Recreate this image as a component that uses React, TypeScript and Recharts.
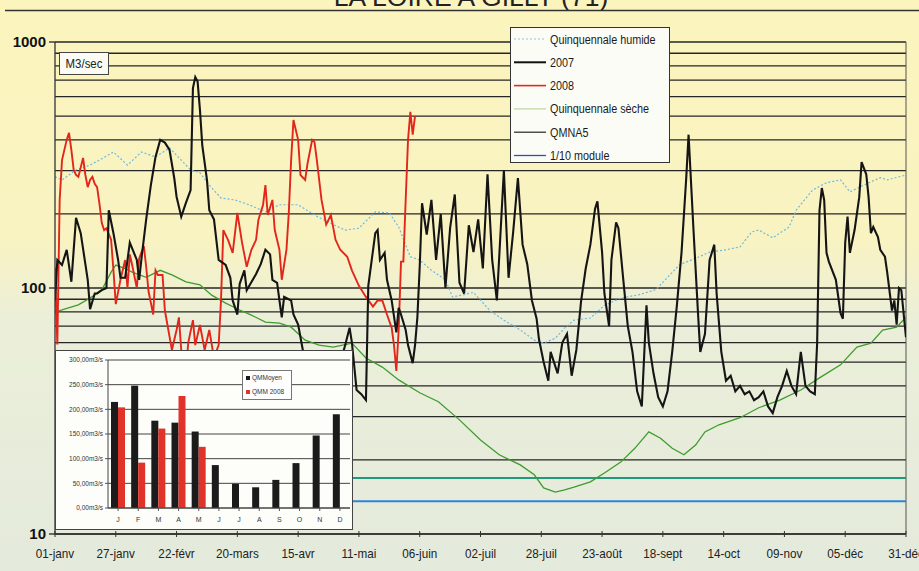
import React from 'react';
import { LineChart, Line, XAxis, YAxis, CartesianGrid, ReferenceLine, BarChart, Bar } from 'recharts';

const W = 919;
const H = 571;

const TITLE = 'LA LOIRE A GILLY (71)';
const xTickDays = [0, 26, 52, 78, 104, 130, 156, 182, 208, 234, 260, 286, 312, 338, 364];
const xTickLabels = ['01-janv', '27-janv', '22-févr', '20-mars', '15-avr', '11-mai', '06-juin', '02-juil', '28-juil', '23-août', '18-sept', '14-oct', '09-nov', '05-déc', '31-déc'];
const yGridValues = [10, 20, 30, 40, 50, 60, 70, 80, 90, 100, 200, 300, 400, 500, 600, 700, 800, 900, 1000];
const yLabelValues = [10, 100, 1000];
const QMNA5 = 16.9;
const MODULE_10 = 13.6;

// [day of year, m3/s]
const flowHumide: [number, number][] = [
  [0, 283], [3, 275], [6, 288], [9, 302], [15, 316], [19, 331], [25, 357], [31, 316], [37, 357], [43, 341], [49, 371], [54, 331], [58, 302], [62, 294], [66, 262], [71, 232], [77, 228], [83, 218], [90, 204], [96, 218], [104, 218], [111, 198], [117, 185], [124, 172], [130, 175], [137, 204], [143, 202], [147, 177], [152, 134], [156, 130], [161, 118], [167, 108], [170, 92], [175, 94], [179, 96], [186, 81], [192, 74], [199, 67.5], [205, 61.4], [209, 59.7], [214, 62.5], [218, 68.7], [222, 74], [229, 75.5], [235, 85], [242, 91], [250, 94], [257, 98.5], [263, 113], [267, 124], [274, 132], [280, 140], [287, 143], [293, 147], [298, 169], [301, 172], [307, 160], [314, 177], [317, 207], [324, 250], [330, 268], [336, 275], [340, 246], [346, 262], [353, 281], [356, 275], [364, 288],
];

const flowSeche: [number, number][] = [
  [0, 80], [3, 81.4], [10, 85.4], [15, 91.1], [20, 98.1], [24, 116], [26, 124], [30, 120], [33, 116], [39, 110.6], [45, 118], [50, 113], [56, 106], [62, 103], [67, 93.5], [73, 86.8], [79, 81.4], [84, 77.6], [90, 72.7], [96, 72], [101, 69.3], [107, 61.4], [113, 58.6], [119, 57.5], [127, 59.7], [133, 51.9], [140, 47.7], [147, 42.3], [156, 37.5], [164, 34.5], [173, 29.1], [182, 24.1], [190, 21], [199, 19.1], [205, 17.4], [209, 15.4], [214, 14.8], [218, 15.1], [222, 15.5], [229, 16.3], [235, 17.7], [242, 19.6], [248, 22.3], [254, 26], [259, 24.5], [264, 22.3], [269, 21], [274, 23], [278, 26], [284, 27.8], [293, 29.7], [301, 32.6], [310, 35], [319, 38.5], [327, 43.1], [336, 48.7], [343, 57.5], [349, 59.7], [354, 67.5], [360, 69.3], [364, 76],
];

const flow2008: [number, number][] = [
  [0, 121], [1, 59], [2, 228], [3, 331], [5, 400], [6, 427], [7, 364], [8, 302], [9, 288], [10, 283], [12, 338], [13, 288], [14, 257], [15, 275], [16, 283], [17, 265], [18, 257], [19, 221], [20, 184], [21, 172], [22, 175], [24, 157], [25, 118], [26, 86], [28, 108], [30, 130], [31, 100], [32, 137], [33, 124], [35, 100], [36, 132], [38, 148], [39, 122], [40, 97], [42, 78], [43, 118], [44, 113], [46, 113], [47, 81], [50, 56], [52, 67.5], [53, 76], [54, 56], [56, 46], [57, 60], [59, 74], [60, 58.6], [62, 70.7], [64, 56], [66, 67.5], [68, 52], [70, 58.6], [71, 89], [72, 172], [74, 157], [76, 139], [78, 202], [80, 153], [82, 122], [84, 143], [86, 157], [87, 189], [89, 218], [90, 262], [91, 198], [93, 228], [94, 172], [96, 143], [97, 108], [99, 143], [100, 202], [101, 331], [102, 482], [104, 400], [105, 288], [107, 275], [108, 320], [110, 400], [111, 392], [112, 331], [114, 228], [116, 181], [118, 198], [120, 157], [122, 143], [125, 134], [127, 118], [130, 102], [133, 92], [136, 84], [138, 89], [140, 89], [142, 78], [144, 69], [145, 58.6], [146, 46], [147, 67.5], [148, 128], [149, 128], [150, 228], [151, 400], [152, 520], [153, 420], [154, 500],
];

const flow2007: [number, number][] = [
  [0, 89], [1, 130], [3, 124], [5, 143], [7, 106], [9, 193], [11, 167], [14, 108], [15, 82], [17, 95], [18, 95], [20, 98], [22, 100], [23, 207], [25, 167], [27, 130], [28, 110], [30, 110], [32, 153], [35, 130], [36, 108], [37, 132], [39, 190], [41, 262], [43, 341], [45, 400], [47, 390], [49, 364], [51, 280], [52, 235], [54, 195], [56, 222], [58, 250], [59, 650], [60, 720], [61, 690], [62, 530], [63, 380], [65, 275], [66, 207], [68, 190], [70, 130], [73, 124], [75, 110], [76, 89], [78, 78], [79, 104], [81, 118], [82, 98], [86, 114], [88, 125], [90, 143], [92, 137], [93, 108], [95, 105], [96, 89], [97, 76], [98, 92], [101, 89], [102, 78], [104, 71], [106, 56], [108, 50], [110, 45], [112, 48], [114, 42], [116, 46], [118, 40], [120, 44], [122, 50], [124, 58], [126, 69], [127, 60], [129, 38.5], [131, 37], [133, 35], [134, 102], [137, 167], [138, 172], [139, 130], [141, 139], [142, 108], [144, 89], [146, 66], [147, 83], [148, 78], [150, 67.5], [151, 58.6], [153, 49.5], [154, 58.6], [155, 76], [156, 122], [157, 221], [159, 165], [161, 228], [163, 130], [165, 200], [167, 100], [169, 175], [171, 240], [173, 105], [175, 95], [177, 180], [179, 140], [181, 190], [183, 120], [185, 290], [187, 130], [189, 89], [191, 200], [192, 300], [194, 110], [196, 170], [198, 280], [200, 150], [202, 125], [204, 89], [206, 75], [207, 62], [209, 50], [211, 42], [212, 55], [214, 48], [215, 45], [217, 60], [219, 65], [221, 44], [223, 56], [225, 88], [227, 120], [229, 150], [231, 210], [232, 225], [234, 140], [235, 95], [237, 70], [238, 130], [240, 185], [241, 175], [243, 110], [245, 70], [247, 55], [249, 38], [251, 33], [253, 85], [254, 60], [256, 45], [258, 36], [260, 33], [262, 38], [264, 55], [266, 85], [268, 140], [270, 280], [271, 420], [273, 180], [275, 80], [276, 55], [278, 65], [280, 130], [282, 150], [283, 95], [285, 55], [287, 42], [289, 44], [291, 38], [293, 40], [295, 37], [297, 38], [299, 35], [301, 36], [303, 38], [305, 33], [307, 31], [309, 36], [311, 40], [313, 46], [315, 40], [317, 37], [319, 55], [321, 40], [323, 38], [325, 37], [326, 60], [327, 207], [328, 255], [329, 228], [330, 139], [331, 128], [334, 108], [336, 79], [337, 75], [338, 153], [339, 195], [340, 139], [342, 172], [344, 234], [345, 325], [347, 290], [348, 234], [349, 167], [350, 177], [352, 161], [353, 143], [355, 134], [356, 115], [358, 81], [359, 89], [360, 71], [361, 100], [362, 98], [364, 63],
];

// inset monthly means
const months = ['J', 'F', 'M', 'A', 'M', 'J', 'J', 'A', 'S', 'O', 'N', 'D'];
const qmMoyen = [215, 248, 177, 173, 155, 87, 49, 42, 57, 91, 147, 190];
const qmm2008: (number | null)[] = [204, 92, 161, 227, 124, null, null, null, null, null, null, null];
const insetTicks = [0, 50, 100, 150, 200, 250, 300];

const legendLabels = ['Quinquennale humide', '2007', '2008', 'Quinquennale sèche', 'QMNA5', '1/10 module'];

const toPoints = (arr: [number, number][]) => arr.map(([d, v]) => ({ d, v }));
const humideData = toPoints(flowHumide);
const secheData = toPoints(flowSeche);
const data2008 = toPoints(flow2008);
const data2007 = toPoints(flow2007);
const insetData = months.map((m, i) => ({ m: m + '_' + i, label: m, moyen: qmMoyen[i], y2008: qmm2008[i] }));

const SANS = "'Liberation Sans', Arial, sans-serif";

function YTick(props: any) {
  const { x, y, payload } = props;
  if (!yLabelValues.includes(payload.value)) return <g />;
  return (
    <g>
      <line x1={x - 6} x2={x} y1={y} y2={y} stroke="#222" strokeWidth={1.3} />
      <text x={x - 9} y={y} dy={5} textAnchor="end" fontFamily={SANS} fontWeight="bold" fontSize={15} fill="#111">
        {payload.value}
      </text>
    </g>
  );
}

function XTick(props: any) {
  const { x, y, payload } = props;
  const i = xTickDays.indexOf(payload.value);
  return (
    <g>
      <line x1={x} x2={x} y1={y - 3} y2={y + 3} stroke="#333" strokeWidth={1} />
      <g transform={`translate(${x},${y + 24}) scale(0.9,1)`}>
        <text x={0} y={0} textAnchor="middle" fontFamily={SANS} fontSize={13} fill="#222">
          {xTickLabels[i]}
        </text>
      </g>
    </g>
  );
}

function InsetXTick(props: any) {
  const { x, y, payload } = props;
  const idx = insetData.findIndex((r) => r.m === payload.value);
  return (
    <text x={x} y={y + 9} textAnchor="middle" fontFamily={SANS} fontSize={7} fill="#333">
      {idx >= 0 ? insetData[idx].label : ''}
    </text>
  );
}

const legendStyles = [
  { stroke: '#86c3e4', width: 1.2, dash: '2 2' },
  { stroke: '#111', width: 2, dash: undefined },
  { stroke: '#e02a1e', width: 1.6, dash: undefined },
  { stroke: '#bfd3a0', width: 1.2, dash: undefined },
  { stroke: '#222', width: 1.2, dash: undefined },
  { stroke: '#2a4fc0', width: 1.3, dash: undefined },
];

export default function App() {
  return (
    <div
      style={{
        position: 'absolute',
        left: 0,
        top: 0,
        width: W,
        height: H,
        overflow: 'hidden',
        background: 'linear-gradient(180deg, #fbf4bd 0%, #f9f3c2 42%, #ebefd9 56%, #e4eadc 100%)',
      }}
    >
      <svg width={W} height={20} style={{ position: 'absolute', left: 0, top: 0 }}>
        <text x={471} y={6} textAnchor="middle" fontFamily={SANS} fontSize={26.5} fill="#222">
          {TITLE}
        </text>
        <line x1={5} x2={W} y1={10.5} y2={10.5} stroke="#333" strokeWidth={1.5} />
      </svg>

      <div style={{ position: 'absolute', left: 0, top: 0 }}>
        <LineChart width={W} height={H} margin={{ top: 42, right: 13, bottom: 7, left: 0 }}>
          <CartesianGrid vertical={false} stroke="#262626" strokeWidth={1.3} />
          <XAxis
            type="number"
            dataKey="d"
            domain={[0, 364]}
            ticks={xTickDays}
            interval={0}
            height={30}
            tick={<XTick />}
            tickLine={false}
            tickSize={0}
            tickMargin={0}
            axisLine={{ stroke: '#333', strokeWidth: 1.3 }}
            allowDataOverflow
          />
          <YAxis
            type="number"
            scale="log"
            domain={[10, 1000]}
            ticks={yGridValues}
            interval={0}
            width={55}
            tick={<YTick />}
            tickLine={false}
            tickSize={0}
            tickMargin={0}
            axisLine={{ stroke: '#333', strokeWidth: 1.3 }}
            allowDataOverflow
          />
          <ReferenceLine x={364} stroke="#555" strokeWidth={1} />
          <ReferenceLine y={QMNA5} stroke="#1e9a7c" strokeWidth={2} />
          <ReferenceLine y={MODULE_10} stroke="#2c86d8" strokeWidth={2} />
          <Line data={humideData} dataKey="v" stroke="#6fb8de" strokeWidth={1.2} strokeDasharray="2 2" dot={false} isAnimationActive={false} />
          <Line data={secheData} dataKey="v" stroke="#3f9b2f" strokeWidth={1.3} dot={false} isAnimationActive={false} />
          <Line data={data2008} dataKey="v" stroke="#e2261b" strokeWidth={1.9} dot={false} isAnimationActive={false} />
          <Line data={data2007} dataKey="v" stroke="#151515" strokeWidth={2.1} dot={false} isAnimationActive={false} />
        </LineChart>
      </div>

      {/* unit box */}
      <div
        style={{
          position: 'absolute',
          left: 59,
          top: 52,
          width: 50,
          height: 23,
          boxSizing: 'border-box',
          background: '#fbfbf4',
          border: '1px solid #444',
        }}
      >
        <svg width={48} height={21} style={{ position: 'absolute', left: 0, top: 0 }}>
          <g transform="translate(24,15) scale(0.88,1)">
            <text x={0} y={0} textAnchor="middle" fontFamily={SANS} fontSize={13} fill="#222">
              M3/sec
            </text>
          </g>
        </svg>
      </div>

      {/* main legend */}
      <div
        style={{
          position: 'absolute',
          left: 510,
          top: 27,
          width: 160,
          height: 136,
          boxSizing: 'border-box',
          background: '#fcfcf6',
          border: '1px solid #333',
        }}
      >
        <svg width={158} height={134} style={{ position: 'absolute', left: 0, top: 0 }}>
          {legendLabels.map((lab, i) => {
            const yy = 11 + i * 23.3;
            const st = legendStyles[i];
            return (
              <g key={lab}>
                <line x1={3} x2={35} y1={yy} y2={yy} stroke={st.stroke} strokeWidth={st.width} strokeDasharray={st.dash} />
                <g transform={`translate(39,${yy + 4.5}) scale(0.8,1)`}>
                  <text x={0} y={0} fontFamily={SANS} fontSize={13.5} fill="#1a1a1a">
                    {lab}
                  </text>
                </g>
              </g>
            );
          })}
        </svg>
      </div>

      {/* inset bar chart */}
      <div
        style={{
          position: 'absolute',
          left: 55,
          top: 350,
          width: 298,
          height: 180,
          boxSizing: 'border-box',
          background: '#fdfdf9',
          border: '1px solid #444',
        }}
      >
        <BarChart width={296} height={178} data={insetData} margin={{ top: 9, right: 2, bottom: 0, left: 0 }} barGap={0} barSize={7}>
          <CartesianGrid vertical={false} stroke="#444" strokeWidth={1} />
          <XAxis dataKey="m" height={21} interval={0} tick={<InsetXTick />} tickLine={{ stroke: '#555' }} tickSize={3} axisLine={{ stroke: '#444' }} />
          <YAxis
            domain={[0, 300]}
            ticks={insetTicks}
            interval={0}
            width={52}
            tickSize={3}
            tickFormatter={(v: number) => `${v},00m3/s`}
            tick={{ fontSize: 6.5, fill: '#333', fontFamily: SANS }}
            tickLine={{ stroke: '#555' }}
            axisLine={{ stroke: '#444' }}
          />
          <Bar dataKey="moyen" fill="#1b1b1b" isAnimationActive={false} />
          <Bar dataKey="y2008" fill="#e0342b" isAnimationActive={false} />
        </BarChart>
        <div
          style={{
            position: 'absolute',
            left: 186,
            top: 19,
            width: 50,
            height: 30,
            boxSizing: 'border-box',
            background: '#fefefe',
            border: '1px solid #777',
            fontFamily: SANS,
            fontSize: 6.5,
            color: '#333',
          }}
        >
          <div style={{ position: 'absolute', left: 3, top: 5, width: 4, height: 4, background: '#1b1b1b' }} />
          <div style={{ position: 'absolute', left: 9, top: 2.5, whiteSpace: 'nowrap' }}>QMMoyen</div>
          <div style={{ position: 'absolute', left: 3, top: 19, width: 4, height: 4, background: '#e0342b' }} />
          <div style={{ position: 'absolute', left: 9, top: 16.5, whiteSpace: 'nowrap' }}>QMM 2008</div>
        </div>
      </div>
    </div>
  );
}
